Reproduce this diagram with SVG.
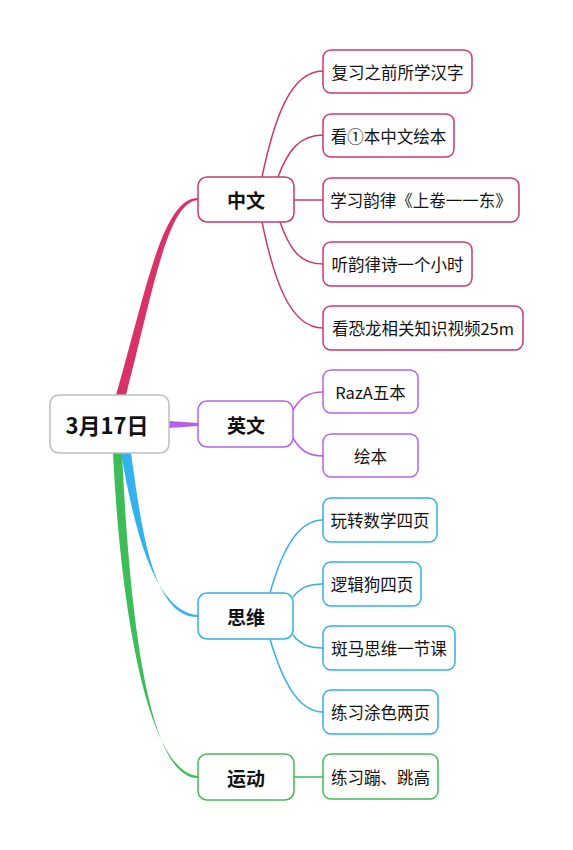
<svg xmlns="http://www.w3.org/2000/svg" width="573" height="850" viewBox="0 0 573 850">
<style>
text{font-family:"Noto Sans CJK SC","Noto Sans",sans-serif;text-anchor:middle;dominant-baseline:central;fill:#111}
.leaf text{font-size:16.5px}
.main text{font-size:19px;font-weight:bold}
.root text{font-size:22px;font-weight:bold}
rect{fill:#fff;stroke-width:1.5}
.zw rect{stroke:#c83a6c}.yw rect{stroke:#b463e6}.sw rect{stroke:#36afe4}.yd rect{stroke:#43ba58}
.l{fill:none;stroke-width:1.5}
.lzw{stroke:#c83a6c}.lyw{stroke:#b463e6}.lsw{stroke:#36afe4}.lyd{stroke:#43ba58}
</style>
<rect width="573" height="850" fill="#fff" stroke="none"/>
<g id="connectors">
<path d="M116,395 C146,292 162,198 198,198 L198,200 C167,202 153,292 126,395 Z" fill="#d93268"/>
<path d="M169,421 L198,423 L198,426 L169,428 Z" fill="#b660e8"/>
<path d="M121,453 C133,522 153,612 198,615 L198,617 C152,618 141,524 131,453 Z" fill="#33b3ee"/>
<path d="M113,453 C120,600 146,772 198,776 L198,778 C146,779 129,600 122,453 Z" fill="#3dbd58"/>
<path class="l lzw" d="M262,177 C274,120 290,71 323,71"/>
<path class="l lzw" d="M278,177 C288,150 300,135 323,135"/>
<path class="l lzw" d="M294,200 L323,200"/>
<path class="l lzw" d="M280,222 C290,250 300,264 323,264"/>
<path class="l lzw" d="M262,222 C274,280 290,328 323,328"/>
<path class="l lyw" d="M293,410 C300,398 308,392 323,392"/>
<path class="l lyw" d="M293,438 C300,450 308,456 323,456"/>
<path class="l lsw" d="M270,593 C282,550 298,520 323,520"/>
<path class="l lsw" d="M293,597 C300,588 308,584 323,584"/>
<path class="l lsw" d="M293,635 C300,644 308,648 323,648"/>
<path class="l lsw" d="M270,639 C282,680 298,712 323,712"/>
<path class="l lyd" d="M294,777 L323,777"/>
</g>
<g id="root" class="root"><rect x="50" y="395" width="119" height="58" rx="9" style="stroke:#bdbdbd"/><text x="107" y="424">3月17日</text></g>
<g id="n-zw" class="main zw"><rect x="198" y="177" width="96" height="45" rx="9"/><text x="246" y="199.5">中文</text></g>
<g id="n-yw" class="main yw"><rect x="198" y="401" width="95" height="46" rx="9"/><text x="246" y="424">英文</text></g>
<g id="n-sw" class="main sw"><rect x="198" y="593" width="95" height="46" rx="9"/><text x="246" y="616">思维</text></g>
<g id="n-yd" class="main yd"><rect x="198" y="754" width="96" height="46" rx="9"/><text x="246" y="777">运动</text></g>
<g id="l1" class="leaf zw"><rect x="323" y="50" width="149" height="43" rx="8"/><text x="397.5" y="71.5">复习之前所学汉字</text></g>
<g id="l2" class="leaf zw"><rect x="323" y="114" width="131" height="43" rx="8"/><text x="388.5" y="135.5">看①本中文绘本</text></g>
<g id="l3" class="leaf zw"><rect x="323" y="178" width="196" height="44" rx="8"/><text x="421" y="200">学习韵律《上卷一一东》</text></g>
<g id="l4" class="leaf zw"><rect x="323" y="242" width="149" height="44" rx="8"/><text x="397.5" y="264">听韵律诗一个小时</text></g>
<g id="l5" class="leaf zw"><rect x="323" y="306" width="200" height="44" rx="8"/><text x="423" y="328">看恐龙相关知识视频25m</text></g>
<g id="l6" class="leaf yw"><rect x="323" y="370" width="95" height="43" rx="8"/><text x="370.5" y="391.5">RazA五本</text></g>
<g id="l7" class="leaf yw"><rect x="323" y="434" width="95" height="43" rx="8"/><text x="370.5" y="455.5">绘本</text></g>
<g id="l8" class="leaf sw"><rect x="323" y="498" width="114" height="44" rx="8"/><text x="380" y="520">玩转数学四页</text></g>
<g id="l9" class="leaf sw"><rect x="323" y="562" width="98" height="44" rx="8"/><text x="372" y="584">逻辑狗四页</text></g>
<g id="l10" class="leaf sw"><rect x="323" y="626" width="132" height="44" rx="8"/><text x="389" y="648">斑马思维一节课</text></g>
<g id="l11" class="leaf sw"><rect x="323" y="690" width="115" height="44" rx="8"/><text x="380.5" y="712">练习涂色两页</text></g>
<g id="l12" class="leaf yd"><rect x="323" y="754" width="115" height="45" rx="8"/><text x="380.5" y="776.5">练习蹦、跳高</text></g>
</svg>
